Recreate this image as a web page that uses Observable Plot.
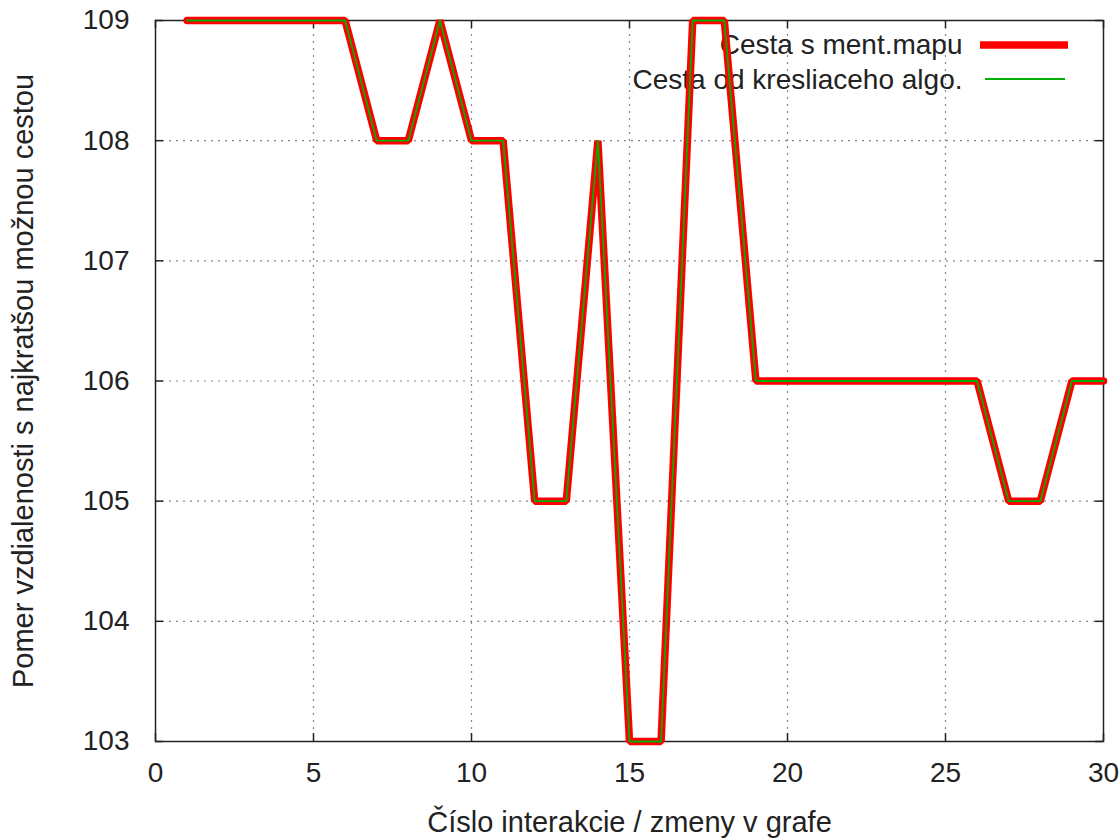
<!DOCTYPE html>
<html>
<head>
<meta charset="utf-8">
<script src="https://cdn.jsdelivr.net/npm/d3@7"></script>
<script src="https://cdn.jsdelivr.net/npm/@observablehq/plot@0.6"></script>
<style>
  html, body { margin: 0; padding: 0; background: #fff; }
  #chart svg { display: block; }
</style>
</head>
<body>
<div id="chart"></div>
<script>
// Data
const iterations = [1,2,3,4,5,6,7,8,9,10,11,12,13,14,15,16,17,18,19,20,21,22,23,24,25,26,27,28,29,30];
const mentMap   = [109,109,109,109,109,109,108,108,109,108,108,105,105,108,103,103,109,109,106,106,106,106,106,106,106,106,105,105,106,106];
const drawAlgo  = [109,109,109,109,109,109,108,108,109,108,108,105,105,108,103,103,109,109,106,106,106,106,106,106,106,106,105,105,106,106];
const xTicks = [0,5,10,15,20,25,30];
const yTicks = [103,104,105,106,107,108,109];
const seriesNames = ["Cesta s ment.mapu", "Cesta od kresliaceho algo."];
const xLabel = "Číslo interakcie / zmeny v grafe";
const yLabel = "Pomer vzdialenosti s najkratšou možnou cestou";

const rowsA = iterations.map((x, i) => ({x, y: mentMap[i]}));
const rowsB = iterations.map((x, i) => ({x, y: drawAlgo[i]}));

const W = 1120, H = 840;
const mL = 155, mR = 17, mT = 20, mB = 99;
const innerW = W - mL - mR, innerH = H - mT - mB;
const tick = 8;
const font = "Liberation Sans, Arial, sans-serif";
const fs = 28;
const lfs = 29;

const plot = Plot.plot({
  width: W, height: H,
  marginLeft: mL, marginRight: mR, marginTop: mT, marginBottom: mB,
  style: {fontFamily: font, fontSize: fs + "px", color: "#222", background: "#fff"},
  x: {domain: [0, 30]},
  y: {domain: [103, 109]},
  marks: [
    Plot.gridX(xTicks.filter(d => d !== 0 && d !== 30), {stroke: "#888", strokeOpacity: 1, strokeDasharray: "2,5", strokeWidth: 1.2}),
    Plot.gridY(yTicks.filter(d => d !== 103 && d !== 109), {stroke: "#888", strokeOpacity: 1, strokeDasharray: "2,5", strokeWidth: 1.2}),
    Plot.ruleX(xTicks, {x: d => d, insetTop: innerH - tick, stroke: "#222", strokeWidth: 1.5}),
    Plot.ruleX(xTicks, {x: d => d, insetBottom: innerH - tick, stroke: "#222", strokeWidth: 1.5}),
    Plot.ruleY(yTicks, {y: d => d, insetRight: innerW - tick, stroke: "#222", strokeWidth: 1.5}),
    Plot.ruleY(yTicks, {y: d => d, insetLeft: innerW - tick, stroke: "#222", strokeWidth: 1.5}),
    Plot.axisX(xTicks, {tickSize: 0, tickPadding: 21, fontSize: fs, tickFormat: d3.format("d"), label: null}),
    Plot.axisY(yTicks, {tickSize: 0, tickPadding: 26, fontSize: fs, tickFormat: d3.format("d"), label: null}),
    Plot.axisX({ticks: [], tickSize: 0, fontSize: lfs, label: xLabel, labelAnchor: "center", labelArrow: "none", labelOffset: 90}),
    Plot.axisY({ticks: [], tickSize: 0, fontSize: lfs, label: yLabel, labelAnchor: "center", labelArrow: "none", labelOffset: 143}),
    Plot.frame({stroke: "#222", strokeWidth: 1.5}),
    // legend text (drawn under the data lines)
    Plot.text([seriesNames[0]], {frameAnchor: "top-right", text: d => d, dx: -141, dy: 25, lineAnchor: "middle", textAnchor: "end", fontSize: fs, fill: "#222"}),
    Plot.text([seriesNames[1]], {frameAnchor: "top-right", text: d => d, dx: -141, dy: 60, lineAnchor: "middle", textAnchor: "end", fontSize: fs, fill: "#222"}),
    Plot.line(rowsA, {x: "x", y: "y", stroke: "#ff0000", strokeWidth: 7.5, strokeLinejoin: "miter"}),
    Plot.line(rowsB, {x: "x", y: "y", stroke: "#00b000", strokeWidth: 1.8})
  ]
});

// legend sample lines
const svg = d3.select(plot);
const fr = W - mR;
svg.append("line").attr("x1", fr - 123).attr("x2", fr - 35).attr("y1", mT + 25).attr("y2", mT + 25)
  .attr("stroke", "#ff0000").attr("stroke-width", 7.5);
svg.append("line").attr("x1", fr - 118).attr("x2", fr - 38).attr("y1", mT + 59).attr("y2", mT + 59)
  .attr("stroke", "#00b000").attr("stroke-width", 1.8);

document.getElementById("chart").appendChild(plot);
</script>
</body>
</html>
